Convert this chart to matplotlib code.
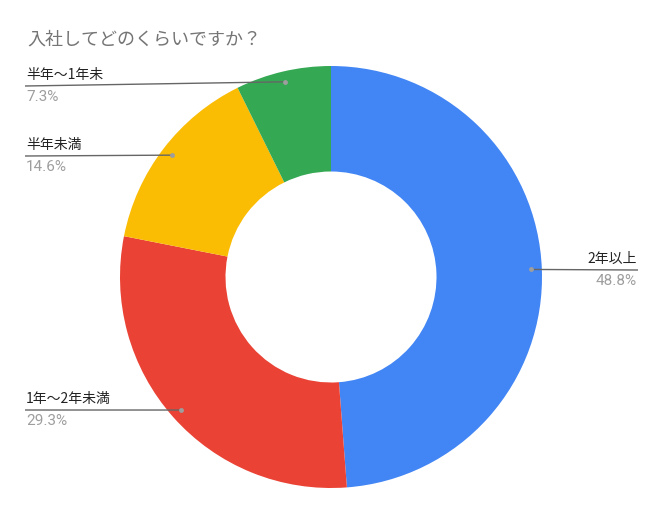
import matplotlib
matplotlib.use('Agg')
import matplotlib.pyplot as plt
import numpy as np

plt.rcParams['font.family'] = ['Noto Sans CJK JP', 'DejaVu Sans']

title = '入社してどのくらいですか？'
categories = ['2年以上', '1年〜2年未満', '半年未満', '半年〜1年未']
shares = [48.8, 29.3, 14.6, 7.3]
colors = ['#4285F4', '#EA4335', '#FBBC04', '#34A853']

W, H = 664, 514
cx, cy, R = 331, H - 277, 211
# label line heights (image px from top) and side
label_y = [270, 410, 156, 86]
label_side = ['right', 'left', 'left', 'left']

fig = plt.figure(figsize=(W / 100, H / 100), dpi=100)
ax = fig.add_axes([0, 0, 1, 1])

wedges, _ = ax.pie(shares, colors=colors, startangle=90, counterclock=False,
                   radius=R, center=(cx, cy),
                   wedgeprops=dict(width=R * 0.5, linewidth=0))

for w, name, val, ly, side in zip(wedges, categories, shares, label_y, label_side):
    ang = np.deg2rad((w.theta1 + w.theta2) / 2)
    dx = cx + 0.95 * R * np.cos(ang)
    dy = cy + 0.95 * R * np.sin(ang)
    y = H - ly
    if side == 'left':
        ex, ha = 25, 'left'
    else:
        ex, ha = 638, 'right'
    ax.plot([dx, ex], [dy, y], color='#666666', lw=1, solid_capstyle='butt')
    ax.plot(dx, dy, 'o', color='#9e9e9e', ms=3.5, mec='none')
    ax.text(ex + (1 if side == 'left' else -1), y + 4, name, ha=ha, va='bottom',
            fontsize=10, color='#222222')
    ax.text(ex + (1 if side == 'left' else -1), y - 4, '%.1f%%' % val, ha=ha, va='top',
            fontsize=11, color='#9e9e9e', family=['Roboto', 'DejaVu Sans'])

ax.text(27, H - 40, title, ha='left', va='center', fontsize=13, color='#757575')

ax.set_xlim(0, W)
ax.set_ylim(0, H)
ax.set_aspect('equal')
ax.axis('off')

fig.savefig('out.png', dpi=100, facecolor='white')
